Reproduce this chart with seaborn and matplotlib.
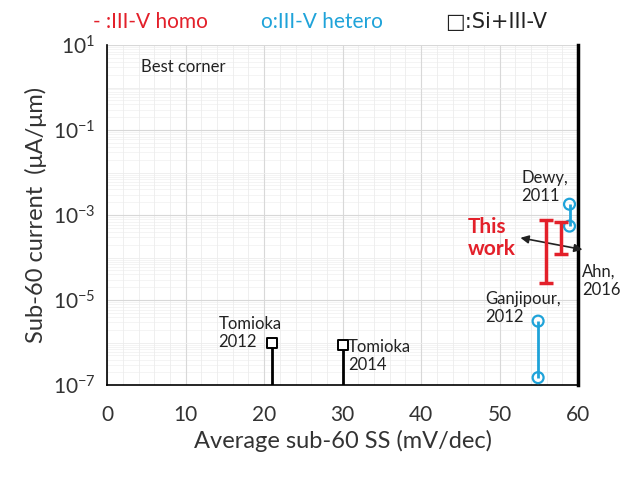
import matplotlib
matplotlib.use("Agg")
import matplotlib.pyplot as plt
import seaborn as sns
import numpy as np
import pandas as pd
from matplotlib.ticker import FixedLocator, FuncFormatter, MultipleLocator, NullFormatter

# ---- data ----
homo_x = [55.9, 57.8]
homo_lo = [2.5e-5, 1.2e-4]
homo_hi = [7.6e-4, 6.9e-4]

hetero_x = [54.9, 58.9]
hetero_lo = [1.5e-7, 5.5e-4]
hetero_hi = [3.2e-6, 1.8e-3]

si_x = [21, 30]
si_y = [9.8e-7, 8.7e-7]

ytick_exps = [1, -1, -3, -5, -7]

RED = "#e3202a"
BLUE = "#1fa3d9"

sns.set_theme(style="white")
plt.rcParams['font.family'] = ['Lato', 'DejaVu Sans']
plt.rcParams['mathtext.fontset'] = 'custom'
plt.rcParams['mathtext.rm'] = 'Lato'
plt.rcParams['mathtext.it'] = 'Lato:italic'
plt.rcParams['mathtext.bf'] = 'Lato:bold'

fig = plt.figure(figsize=(6.23, 4.79), dpi=100)
ax = fig.add_axes([0.172, 0.196, 0.756, 0.710])

ax.set_yscale("log")
ax.set_xlim(0, 60)
ax.set_ylim(1e-7, 10)

# grid
ax.xaxis.set_major_locator(MultipleLocator(10))
ax.xaxis.set_minor_locator(MultipleLocator(2))
ax.yaxis.set_major_locator(FixedLocator([10.0**e for e in ytick_exps]))
ax.yaxis.set_minor_locator(FixedLocator([10.0**e for e in range(-7, 2)]))
ax.yaxis.set_minor_formatter(NullFormatter())
ax.grid(True, which="major", color="#d8d8d8", lw=0.8)
ax.grid(True, which="minor", color="#ececec", lw=0.6)
for d in range(-7, 1):
    for m in range(2, 10):
        ax.axhline(m * 10.0**d, color="#f0f0f0", lw=0.5, zorder=0)
ax.set_axisbelow(True)

# Si+III-V stems
si_df = pd.DataFrame({"x": si_x, "y": si_y})
ax.vlines(si_df["x"], 1e-7, si_df["y"], color="black", lw=2, zorder=3)
sns.scatterplot(data=si_df, x="x", y="y", marker="s", s=60, facecolor="white",
                edgecolor="black", linewidth=1.4, ax=ax, zorder=4, legend=False)

# hetero
het_df = pd.DataFrame({"x": hetero_x * 2, "y": hetero_lo + hetero_hi})
ax.vlines(hetero_x, hetero_lo, hetero_hi, color=BLUE, lw=2, zorder=3)
sns.scatterplot(data=het_df, x="x", y="y", marker="o", s=62, facecolor="none",
                edgecolor=BLUE, linewidth=1.6, ax=ax, zorder=4, legend=False)

# homo (this work)
mid = np.sqrt(np.array(homo_lo) * np.array(homo_hi))
ax.errorbar(homo_x, mid, yerr=[mid - np.array(homo_lo), np.array(homo_hi) - mid],
            fmt="none", ecolor=RED, elinewidth=2.5, capsize=5, capthick=2.5, zorder=5)

# spines / ticks
ax.spines["top"].set_visible(False)
ax.spines["right"].set_linewidth(2.5)
ax.spines["left"].set_linewidth(1.2)
ax.spines["bottom"].set_linewidth(1.2)
for s in ["left", "bottom", "right"]:
    ax.spines[s].set_color("black")
ax.tick_params(axis="x", which="major", direction="inout", length=12, width=1.2,
               labelsize=15, pad=8, colors="#333333")
ax.tick_params(axis="x", which="minor", direction="in", length=6, width=1.0)
ax.tick_params(axis="y", which="major", direction="inout", length=10, width=1.2,
               labelsize=15, colors="#333333")
ax.tick_params(axis="y", which="minor", direction="in", length=7, width=1.0)
ax.tick_params(axis="both", which="both", color="black")
ax.yaxis.set_major_formatter(FuncFormatter(lambda v, p: r"$10^{%d}$" % int(round(np.log10(v)))))
ax.set_xticks([0, 10, 20, 30, 40, 50, 60])

ax.set_xlabel("Average sub-60 SS (mV/dec)", fontsize=17, color="#333333", labelpad=4)
ax.set_ylabel("Sub-60 current  (μA/μm)", fontsize=17, color="#333333", labelpad=4)

# annotations
tc = "#222222"
ax.text(4.3, 3.0, "Best corner", fontsize=12, color=tc, va="center", ha="left")
ax.text(14.2, 1.7e-6, "Tomioka\n2012", fontsize=12, color=tc, ha="left", va="center",
        linespacing=1.2)
ax.text(30.7, 4.8e-7, "Tomioka\n2014", fontsize=12, color=tc, ha="left", va="center",
        linespacing=1.2)
ax.text(52.8, 4.6e-3, "Dewy,\n2011", fontsize=12, color=tc, ha="left", va="center",
        linespacing=1.2)
ax.text(60.5, 2.8e-5, "Ahn,\n2016", fontsize=12, color=tc, ha="left", va="center",
        linespacing=1.2, clip_on=False)
ax.text(48.2, 6.5e-6, "Ganjipour,\n2012", fontsize=12, color=tc, ha="left", va="center",
        linespacing=1.2)
ax.text(46.0, 2.9e-4, "This\nwork", fontsize=15, color=RED, fontweight="bold",
        ha="left", va="center", linespacing=1.15)
ax.annotate("", xy=(52.3, 3.0e-4), xytext=(60.9, 1.5e-4),
            arrowprops=dict(arrowstyle="<|-|>", color="#222222", lw=1.2,
                            mutation_scale=12), annotation_clip=False)

# legend-like header
fig.text(0.149, 0.955, "- :III-V homo", fontsize=15, color=RED, ha="left", va="center")
fig.text(0.419, 0.955, "o:III-V hetero", fontsize=15, color=BLUE, ha="left", va="center")
fig.text(0.714, 0.955, "□:Si+III-V", fontsize=15, color="#222222", ha="left", va="center",
         family=["DejaVu Sans"])

fig.savefig("out.png", dpi=100)
